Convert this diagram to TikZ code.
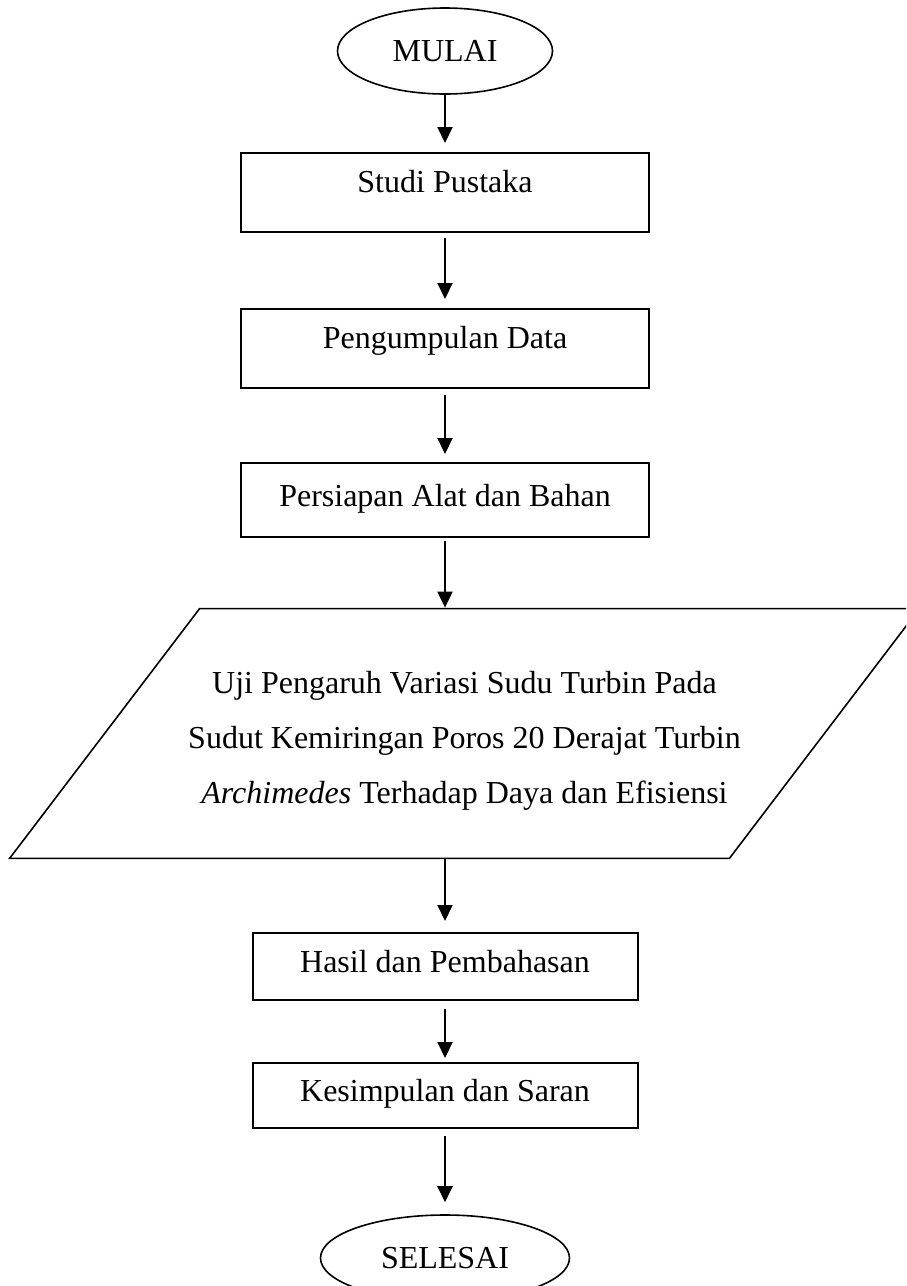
\documentclass[tikz,border=0pt]{standalone}
\usepackage{fontspec}
\setmainfont{Liberation Serif}
\usetikzlibrary{positioning}
\usetikzlibrary{shapes.geometric}
\usetikzlibrary{arrows.meta}

\begin{document}
\begin{tikzpicture}[x=0.5pt, y=-0.5pt,
    font=\fontsize{16}{27.5}\selectfont,
    proses/.style={draw, line width=1pt, rectangle, minimum width=204pt, inner sep=0pt, text height=9pt, text depth=3pt},
    terminal/.style={draw, line width=0.8pt, ellipse, inner sep=0pt, minimum height=43pt},
    masukan/.style={rectangle, inner sep=0pt, minimum width=454.5pt, minimum height=124.5pt},
    panah/.style={line width=1pt, -{Triangle[length=8pt, width=7.5pt]}}]

    \useasboundingbox (0,0) rectangle (906,1286);
    \clip (0,0) rectangle (906,1286);

    % terminal awal
    \node[terminal, minimum width=107.5pt] (mulai) at (445, 51) {MULAI};

    % tahapan
    \node[proses, minimum height=39.5pt, text height=5pt, text depth=5pt] (studi) at (445, 192.5) {Studi Pustaka};
    \node[proses, minimum height=39.5pt, text height=5pt, text depth=5pt] (kumpul) at (445, 348.5) {Pengumpulan Data};
    \node[proses, minimum height=37pt] (siap) at (445, 500) {Persiapan Alat dan Bahan};

    % pengujian (jajar genjang)
    \node[masukan] (uji) at (464.5, 733.5) {};
    \draw[line width=0.8pt] (uji.south west) -- ([xshift=95pt]uji.north west) -- (uji.north east)
        -- ([xshift=-95pt]uji.south east) -- cycle;
    \node[align=center] (ujiteks) at (464.5, 740.5)
        {Uji Pengaruh Variasi Sudu Turbin Pada\\
         Sudut Kemiringan Poros 20 Derajat Turbin\\
         \textit{Archimedes} Terhadap Daya dan Efisiensi};

    \node[proses, minimum width=192.5pt, minimum height=33.5pt] (hasil) at (445, 966.5) {Hasil dan Pembahasan};
    \node[proses, minimum width=192.5pt, minimum height=32.5pt] (simpul) at (445, 1095.5) {Kesimpulan dan Saran};

    % terminal akhir
    \node[terminal, minimum width=124.5pt] (selesai) at (445, 1258) {SELESAI};

    % alur
    \draw[panah, shorten >=4.5pt] (mulai) -- (studi);
    \draw[panah, shorten <=2.5pt, shorten >=4.5pt] (studi) -- (kumpul);
    \draw[panah, shorten <=3pt, shorten >=4pt] (kumpul) -- (siap);
    \draw[panah, shorten <=1.5pt, shorten >=0.5pt] (siap) -- (siap |- uji.north);
    \draw[panah, shorten >=5.5pt] (hasil |- uji.south) -- (hasil);
    \draw[panah, shorten <=4pt, shorten >=2pt] (hasil) -- (simpul);
    \draw[panah, shorten <=3.5pt, shorten >=6pt] (simpul) -- (selesai);
\end{tikzpicture}
\end{document}
